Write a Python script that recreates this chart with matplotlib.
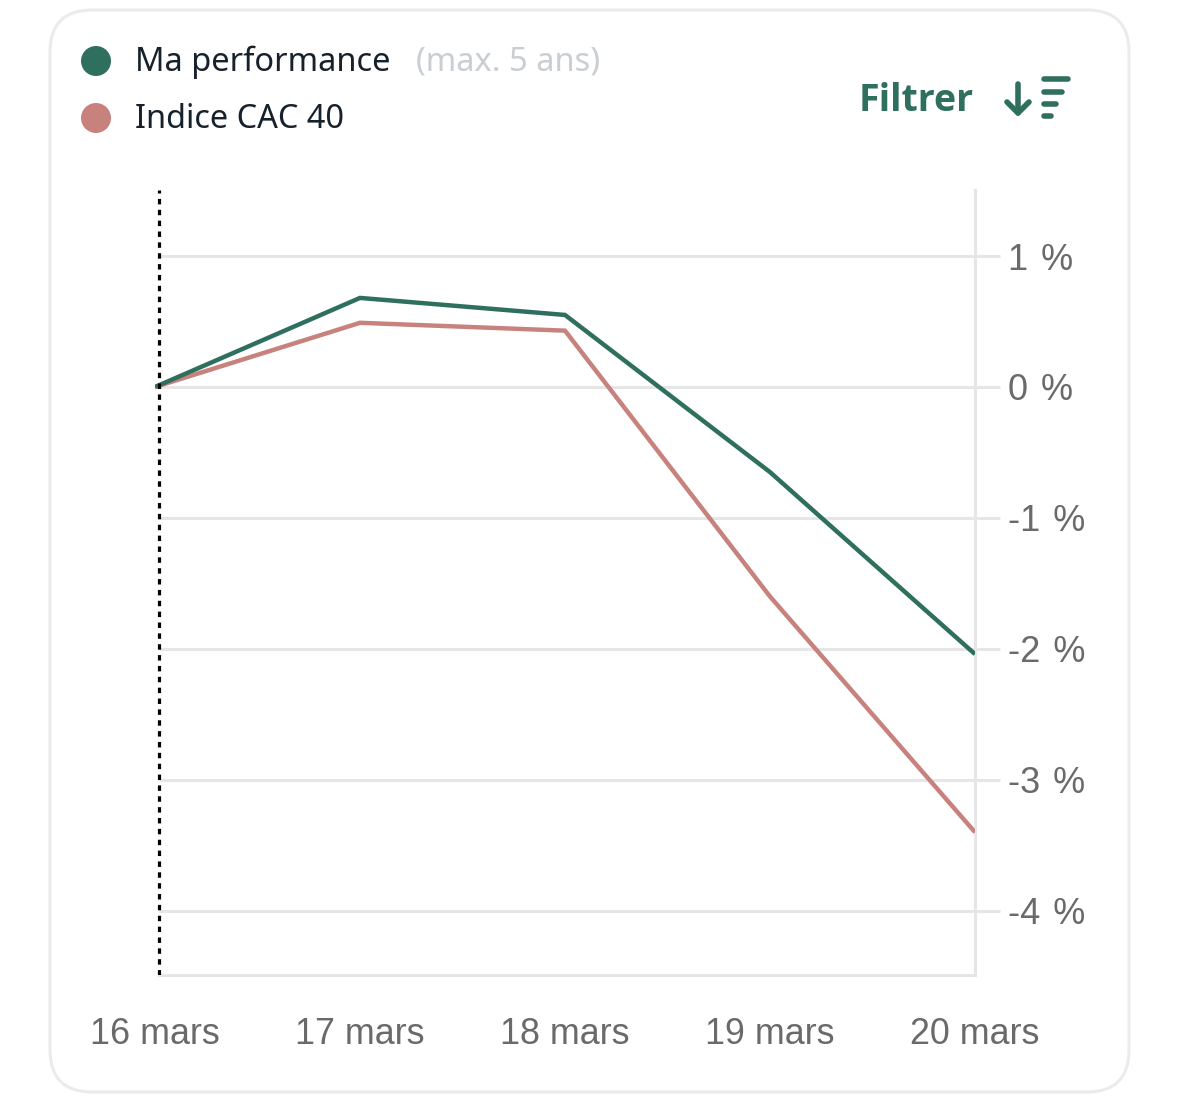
import matplotlib
matplotlib.use("Agg")
import matplotlib.pyplot as plt
from matplotlib.patches import FancyBboxPatch, Circle

# données du graphique
dates = ["16 mars", "17 mars", "18 mars", "19 mars", "20 mars"]
ma_performance = [0, 0.68, 0.55, -0.65, -2.04]
indice_cac = [0, 0.49, 0.43, -1.60, -3.40]
y_ticks = [1, 0, -1, -2, -3, -4]

GREEN = "#2f6f5e"
RED = "#c8827e"
GRID = "#e6e6e6"
LABEL = "#6a6a6a"
DARK = "#16212b"

W, H = 1179, 1098
fig = plt.figure(figsize=(W / 100, H / 100), dpi=100, facecolor="white")

# calque en pixels pour la carte, la légende et le bouton
bg = fig.add_axes([0, 0, 1, 1], zorder=0)
bg.set_xlim(0, W)
bg.set_ylim(H, 0)
bg.axis("off")
bg.add_patch(FancyBboxPatch((50, 10), 1079, 1082, boxstyle="round,pad=0,rounding_size=42",
                            fc="white", ec="#ebebeb", lw=2.2))

# légende
bg.add_patch(Circle((96, 61), 15, fc=GREEN, ec="none"))
bg.add_patch(Circle((96, 118), 15, fc=RED, ec="none"))
bg.text(135, 62, "Ma performance", family="Noto Sans", fontsize=23.5, color=DARK, va="center")
bg.text(416, 62, "(max. 5 ans)", family="Noto Sans", fontsize=23.5, color="#c9ced3", va="center")
bg.text(135, 119, "Indice CAC 40", family="Noto Sans", fontsize=23.4, color=DARK, va="center")

# bouton filtrer
bg.text(859, 101, "Filtrer", family="Open Sans", fontsize=27, weight="bold", color=GREEN, va="center")
bg.plot([1018, 1018], [84, 113], color=GREEN, lw=4, solid_capstyle="round")
bg.plot([1007, 1018, 1029], [102, 113, 102], color=GREEN, lw=4,
        solid_capstyle="round", solid_joinstyle="round")
for x0, x1, y in [(1044, 1068, 79), (1044, 1062, 92), (1044, 1056, 104), (1044, 1051, 116)]:
    bg.plot([x0, x1], [y, y], color=GREEN, lw=4, solid_capstyle="round")

# axes du graphique : le 16 mars tombe un peu à gauche de la ligne pointillée
left, right, top, bottom = 155, 975, 190, 975
x_start = 0.02
ax = fig.add_axes([left / W, 1 - bottom / H, (right - left) / W, (bottom - top) / H], zorder=1)
ax.patch.set_alpha(0)

x = range(len(dates))
ax.plot(x, ma_performance, color=GREEN, lw=3.2, zorder=4, solid_joinstyle="miter", solid_capstyle="butt")
ax.plot(x, indice_cac, color=RED, lw=3.2, zorder=3.5, solid_joinstyle="miter", solid_capstyle="butt")
ax.axvline(x_start, color="black", lw=2.3, dashes=(1.7, 1.7), zorder=5)
ax.hlines(y_ticks, x_start, 4, color=GRID, lw=2.2, zorder=1)

ax.yaxis.tick_right()
ax.set_yticks(y_ticks)
ax.set_yticklabels([f"{v} \u200a%" for v in y_ticks], family="Liberation Sans", fontsize=26, color=LABEL)
ax.set_xticks(list(x))
ax.set_xticklabels(dates, family="Liberation Sans", fontsize=25.8, color=LABEL)
ax.set_xlim(0, 4)
ax.set_ylim(-4.49, 1.504)
ax.tick_params(axis="y", length=18, width=2.2, color=GRID, pad=6)
ax.tick_params(axis="x", length=0, pad=30)

for side in ["top", "left"]:
    ax.spines[side].set_visible(False)
for side in ["right", "bottom"]:
    ax.spines[side].set_color(GRID)
    ax.spines[side].set_linewidth(2.2)
ax.spines["bottom"].set_bounds(x_start, 4)

plt.savefig("out.png", dpi=100)
plt.close()
